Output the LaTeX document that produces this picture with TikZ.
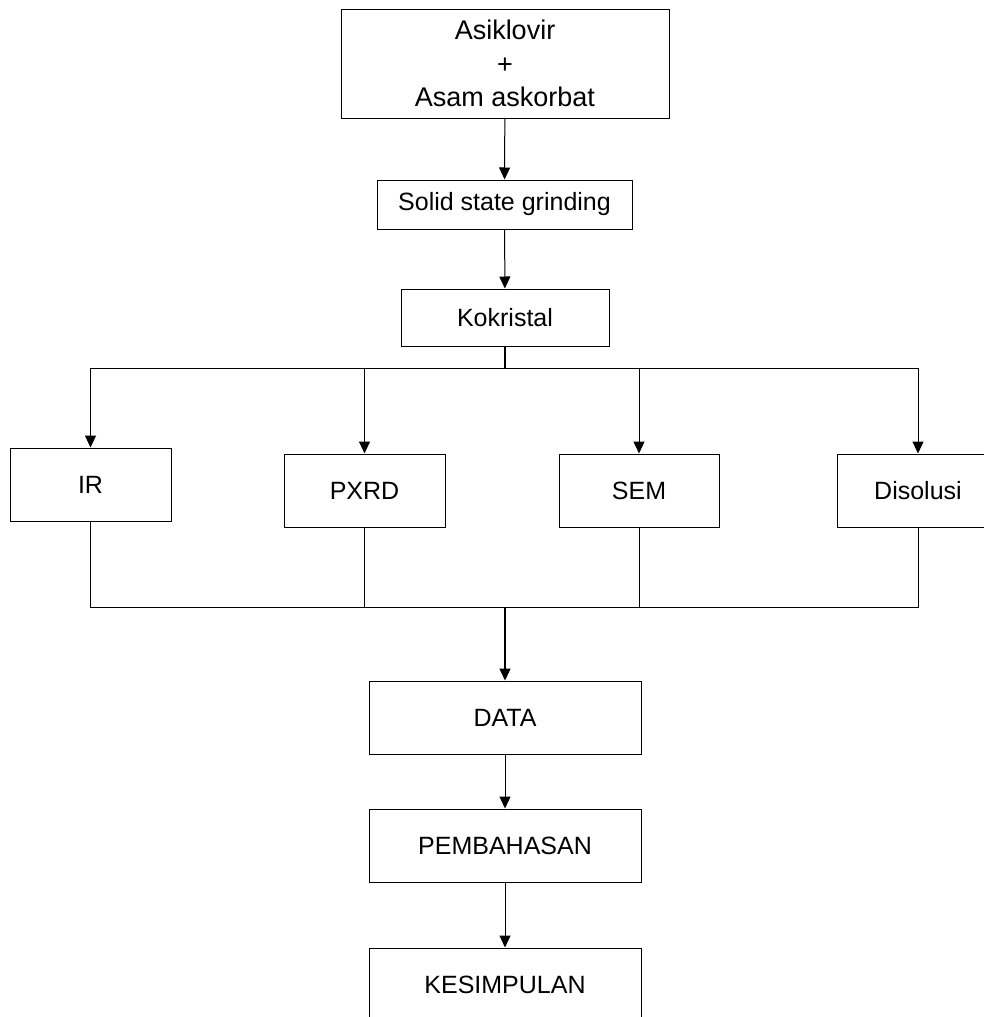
\documentclass[tikz,border=0pt]{standalone}
\usepackage{fontspec}
\setmainfont{Liberation Sans}
\usetikzlibrary{arrows.meta}
\begin{document}
\begin{tikzpicture}[x=1pt,y=-1pt,
  box/.style={draw=black, line width=1pt, inner sep=0pt, align=center,
    font=\fontsize{25}{30}\selectfont},
  conn/.style={draw=black, line width=1pt},
  arr/.style={conn, -{Triangle[length=12pt,width=11pt]}}]
\useasboundingbox (0,0) rectangle (984,1017);
\clip (0,0) rectangle (984,1017);
\fill[white] (0,0) rectangle (984,1017);
\node[box, minimum width=328, minimum height=109, font=\fontsize{27}{33.5}\selectfont] (top) at (505,63.5) {Asiklovir\\+\\Asam askorbat};
\node[box, minimum width=255, minimum height=49] (solid) at (504.5,204.5) {Solid state grinding};
\node[box, minimum width=208, minimum height=57] (kok) at (505,317.5) {Kokristal};
\node[box, minimum width=161, minimum height=73] (ir) at (90.5,484.5) {IR};
\node[box, minimum width=161, minimum height=73] (pxrd) at (364.5,490.5) {PXRD};
\node[box, minimum width=160, minimum height=73] (sem) at (639,490.5) {SEM};
\node[box, minimum width=162, minimum height=73] (dis) at (918,490.5) {Disolusi};
\node[box, minimum width=272, minimum height=73] (data) at (505,717.5) {DATA};
\node[box, minimum width=272, minimum height=73] (pemb) at (505,845.5) {PEMBAHASAN};
\node[box, minimum width=272, minimum height=73] (kes) at (505,984.5) {KESIMPULAN};
\coordinate (split) at (505,368);
\coordinate (merge) at (505,607);
\draw[arr] (top) -- (solid);
\draw[arr] (solid) -- (kok);
\draw[conn, line width=1.4pt] (kok.south) -- (split);
\draw[arr] (split) -| (ir.north);
\draw[arr] (split) -| (pxrd.north);
\draw[arr] (split) -| (sem.north);
\draw[arr] (split) -| (dis.north);
\draw[conn] (ir.south) |- (merge);
\draw[conn] (pxrd.south) |- (merge);
\draw[conn] (sem.south) |- (merge);
\draw[conn] (dis.south) |- (merge);
\draw[arr, line width=1.6pt] (merge) -- (data);
\draw[arr] (data) -- (pemb);
\draw[arr] (pemb) -- (kes);
\end{tikzpicture}
\end{document}
